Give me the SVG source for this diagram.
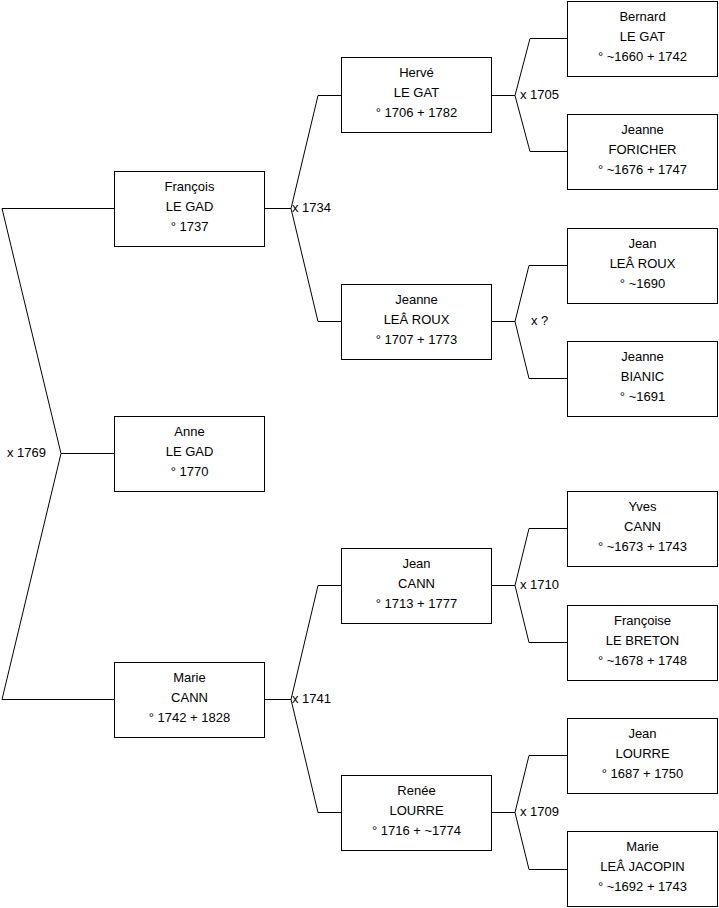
<svg xmlns="http://www.w3.org/2000/svg" width="719" height="908" viewBox="0 0 719 908">
<style>
rect.box{fill:#fff;stroke:#000;stroke-width:1}
text{font-family:"Liberation Sans",Arial,sans-serif;font-size:13px;fill:#000}
text.c{text-anchor:middle}
.conn path{fill:none;stroke:#000;stroke-width:1}
</style>
<rect x="0" y="0" width="719" height="908" fill="#fff"/>
<g id="connectors" class="conn">
<path d="M114.5,208.5 H2 L61,453.5 L2,699.5 H114.5 M61,453.5 H114.5"/>
<path d="M264.5,208.5 H291 M341.5,95.5 H318 L291,208.5 L318,321.5 H341.5"/>
<path d="M264.5,699.5 H291 M341.5,585.5 H318 L291,699.5 L318,812.5 H341.5"/>
<path d="M491.5,95.5 H515 M567.5,38.5 H530 L515,95.5 L530,151.5 H567.5"/>
<path d="M491.5,321.5 H515 M567.5,265.5 H529 L515,321.5 L529,378.5 H567.5"/>
<path d="M491.5,585.5 H515 M567.5,528.5 H529 L515,585.5 L529,642.5 H567.5"/>
<path d="M491.5,812.5 H515 M567.5,755.5 H529 L515,812.5 L529,869.5 H567.5"/>
</g>
<g id="labels">
<text x="7" y="457">x 1769</text>
<text x="292" y="212">x 1734</text>
<text x="292" y="703">x 1741</text>
<text x="520" y="99">x 1705</text>
<text x="531" y="325">x ?</text>
<text x="520" y="589">x 1710</text>
<text x="520" y="816">x 1709</text>
</g>
<g id="francois"><rect class="box" x="114.5" y="171.5" width="150" height="75"/><text class="c" x="189.5" y="191">François</text><text class="c" x="189.5" y="211">LE GAD</text><text class="c" x="189.5" y="231">° 1737</text></g>
<g id="anne"><rect class="box" x="114.5" y="416.5" width="150" height="75"/><text class="c" x="189.5" y="436">Anne</text><text class="c" x="189.5" y="456">LE GAD</text><text class="c" x="189.5" y="476">° 1770</text></g>
<g id="marie-cann"><rect class="box" x="114.5" y="662.5" width="150" height="75"/><text class="c" x="189.5" y="682">Marie</text><text class="c" x="189.5" y="702">CANN</text><text class="c" x="189.5" y="722">° 1742 + 1828</text></g>
<g id="herve"><rect class="box" x="341.5" y="57.5" width="150" height="75"/><text class="c" x="416.5" y="77">Hervé</text><text class="c" x="416.5" y="97">LE GAT</text><text class="c" x="416.5" y="117">° 1706 + 1782</text></g>
<g id="jeanne-leroux"><rect class="box" x="341.5" y="284.5" width="150" height="75"/><text class="c" x="416.5" y="304">Jeanne</text><text class="c" x="416.5" y="324">LEÂ ROUX</text><text class="c" x="416.5" y="344">° 1707 + 1773</text></g>
<g id="jean-cann"><rect class="box" x="341.5" y="548.5" width="150" height="75"/><text class="c" x="416.5" y="568">Jean</text><text class="c" x="416.5" y="588">CANN</text><text class="c" x="416.5" y="608">° 1713 + 1777</text></g>
<g id="renee"><rect class="box" x="341.5" y="775.5" width="150" height="75"/><text class="c" x="416.5" y="795">Renée</text><text class="c" x="416.5" y="815">LOURRE</text><text class="c" x="416.5" y="835">° 1716 + ~1774</text></g>
<g id="bernard"><rect class="box" x="567.5" y="1.5" width="150" height="75"/><text class="c" x="642.5" y="21">Bernard</text><text class="c" x="642.5" y="41">LE GAT</text><text class="c" x="642.5" y="61">° ~1660 + 1742</text></g>
<g id="jeanne-foricher"><rect class="box" x="567.5" y="114.5" width="150" height="75"/><text class="c" x="642.5" y="134">Jeanne</text><text class="c" x="642.5" y="154">FORICHER</text><text class="c" x="642.5" y="174">° ~1676 + 1747</text></g>
<g id="jean-leroux"><rect class="box" x="567.5" y="228.5" width="150" height="75"/><text class="c" x="642.5" y="248">Jean</text><text class="c" x="642.5" y="268">LEÂ ROUX</text><text class="c" x="642.5" y="288">° ~1690</text></g>
<g id="jeanne-bianic"><rect class="box" x="567.5" y="341.5" width="150" height="75"/><text class="c" x="642.5" y="361">Jeanne</text><text class="c" x="642.5" y="381">BIANIC</text><text class="c" x="642.5" y="401">° ~1691</text></g>
<g id="yves"><rect class="box" x="567.5" y="491.5" width="150" height="75"/><text class="c" x="642.5" y="511">Yves</text><text class="c" x="642.5" y="531">CANN</text><text class="c" x="642.5" y="551">° ~1673 + 1743</text></g>
<g id="francoise"><rect class="box" x="567.5" y="605.5" width="150" height="75"/><text class="c" x="642.5" y="625">Françoise</text><text class="c" x="642.5" y="645">LE BRETON</text><text class="c" x="642.5" y="665">° ~1678 + 1748</text></g>
<g id="jean-lourre"><rect class="box" x="567.5" y="718.5" width="150" height="75"/><text class="c" x="642.5" y="738">Jean</text><text class="c" x="642.5" y="758">LOURRE</text><text class="c" x="642.5" y="778">° 1687 + 1750</text></g>
<g id="marie-jacopin"><rect class="box" x="567.5" y="831.5" width="150" height="75"/><text class="c" x="642.5" y="851">Marie</text><text class="c" x="642.5" y="871">LEÂ JACOPIN</text><text class="c" x="642.5" y="891">° ~1692 + 1743</text></g>
</svg>
